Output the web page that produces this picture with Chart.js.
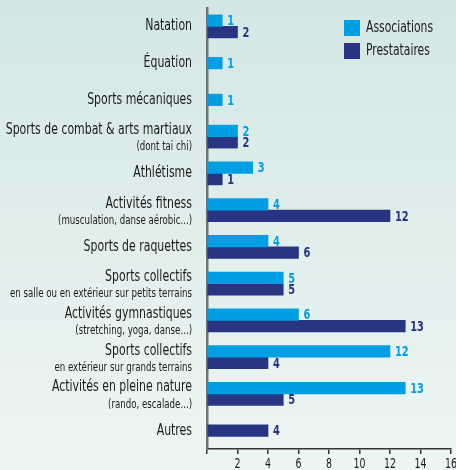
<!DOCTYPE html>
<html>
<head>
<meta charset="utf-8">
<script src="https://cdn.jsdelivr.net/npm/chart.js@4.4.1/dist/chart.umd.min.js"></script>
<style>
    html, body { margin: 0; padding: 0; }
    body {
        width: 456px;
        height: 470px;
        background: linear-gradient(to bottom, #d2e7e4 0%, #e2efed 55%, #edf6f5 100%);
        overflow: hidden;
    }
    #wrap { position: relative; width: 456px; height: 470px; }
    canvas { display: block; }
</style>
</head>
<body>
<div id="wrap"><canvas id="sportsChart" width="456" height="470"></canvas></div>
<script>
// --- Data ---
const categories = [
    'Natation',
    'Équation',
    'Sports mécaniques',
    'Sports de combat & arts martiaux',
    'Athlétisme',
    'Activités fitness',
    'Sports de raquettes',
    'Sports collectifs',
    'Activités gymnastiques',
    'Sports collectifs',
    'Activités en pleine nature',
    'Autres'
];
const subLabels = [
    '', '', '',
    '(dont tai chi)',
    '',
    '(musculation, danse aérobic...)',
    '',
    'en salle ou en extérieur sur petits terrains',
    '(stretching, yoga, danse...)',
    'en extérieur sur grands terrains',
    '(rando, escalade...)',
    ''
];
const associations = [1, 1, 1, 2, 3, 4, 4, 5, 6, 12, 13, null];
const prestataires = [2, null, null, 2, 1, 12, 6, 5, 13, 4, 5, 4];
const xTicks = [2, 4, 6, 8, 10, 12, 14, 16];

// no condensed font installed, so text gets squeezed horizontally
const FONT = "'DejaVu Sans Condensed', 'DejaVu Sans', sans-serif";
const COL_ASSO = '#009fe3';
const COL_PREST = '#283583';
const COL_TEXT = '#1b1b1b';

function squeezedText(ctx, text, x, y, sx, align) {
    ctx.save();
    ctx.translate(x, y);
    ctx.scale(sx, 1);
    ctx.textAlign = align;
    ctx.textBaseline = 'middle';
    ctx.fillText(text, 0, 0);
    ctx.restore();
}

// --- Category labels drawn next to the y axis (main line + smaller sub line) ---
const categoryLabels = {
    id: 'categoryLabels',
    afterDraw(chart) {
        const ctx = chart.ctx;
        const yScale = chart.scales.y;
        const right = chart.chartArea.left - 15;
        ctx.save();
        ctx.fillStyle = COL_TEXT;
        categories.forEach((label, i) => {
            const y = yScale.getPixelForValue(i);
            ctx.font = '15px ' + FONT;
            if (subLabels[i]) {
                squeezedText(ctx, label, right, y - 6.5, 0.81, 'right');
                ctx.font = '12px ' + FONT;
                squeezedText(ctx, subLabels[i], right, y + 10.5, 0.8, 'right');
            } else {
                squeezedText(ctx, label, right, y, 0.81, 'right');
            }
        });
        ctx.restore();
    }
};

// --- Value labels at the end of each bar ---
const valueLabels = {
    id: 'valueLabels',
    afterDatasetsDraw(chart) {
        const ctx = chart.ctx;
        ctx.save();
        ctx.font = 'bold 14px ' + FONT;
        chart.data.datasets.forEach((ds, di) => {
            const meta = chart.getDatasetMeta(di);
            ctx.fillStyle = ds.backgroundColor;
            meta.data.forEach((bar, i) => {
                const v = ds.data[i];
                if (v === null || v === undefined) return;
                squeezedText(ctx, String(v), bar.x + 5, bar.y + 1, 0.78, 'left');
            });
        });
        ctx.restore();
    }
};

// --- X tick labels (squeezed like the rest of the text) ---
const xTickLabels = {
    id: 'xTickLabels',
    afterDraw(chart) {
        const ctx = chart.ctx;
        const xScale = chart.scales.x;
        const y = chart.chartArea.bottom + 15;
        ctx.save();
        ctx.fillStyle = COL_TEXT;
        ctx.font = '14px ' + FONT;
        xTicks.forEach(v => {
            squeezedText(ctx, String(v), xScale.getPixelForValue(v), y, 0.75, 'center');
        });
        ctx.restore();
    }
};

// --- Legend in the top right corner ---
const cornerLegend = {
    id: 'cornerLegend',
    afterDraw(chart) {
        const ctx = chart.ctx;
        ctx.save();
        ctx.font = '15px ' + FONT;
        chart.data.datasets.forEach((ds, di) => {
            const top = 20 + di * 23;
            ctx.fillStyle = ds.backgroundColor;
            ctx.fillRect(344, top, 16, 16);
            ctx.fillStyle = COL_TEXT;
            squeezedText(ctx, ds.label, 366, top + 8, 0.8, 'left');
        });
        ctx.restore();
    }
};

const ctx = document.getElementById('sportsChart');
new Chart(ctx, {
    type: 'bar',
    data: {
        labels: categories,
        datasets: [{
            label: 'Associations',
            data: associations,
            backgroundColor: COL_ASSO,
            barThickness: 11.5,
            skipNull: true
        }, {
            label: 'Prestataires',
            data: prestataires,
            backgroundColor: COL_PREST,
            barThickness: 11.5,
            skipNull: true
        }]
    },
    options: {
        indexAxis: 'y',
        responsive: false,
        animation: false,
        devicePixelRatio: 1,
        layout: {
            padding: { left: 207, top: 8, right: 5, bottom: 16 }
        },
        plugins: {
            legend: { display: false },
            tooltip: { enabled: false }
        },
        scales: {
            x: {
                min: 0,
                max: 16,
                afterBuildTicks(scale) {
                    scale.ticks = [0].concat(xTicks).map(v => ({ value: v }));
                },
                grid: {
                    drawOnChartArea: false,
                    drawTicks: true,
                    tickLength: 5,
                    color: '#333',
                    lineWidth: 1.5
                },
                border: { display: true, color: '#333', width: 1.5 },
                ticks: { display: false }
            },
            y: {
                grid: { display: false, drawTicks: false },
                border: { display: true, color: '#6f7474', width: 2.5 },
                ticks: { display: false }
            }
        }
    },
    plugins: [categoryLabels, valueLabels, xTickLabels, cornerLegend]
});
</script>
</body>
</html>
